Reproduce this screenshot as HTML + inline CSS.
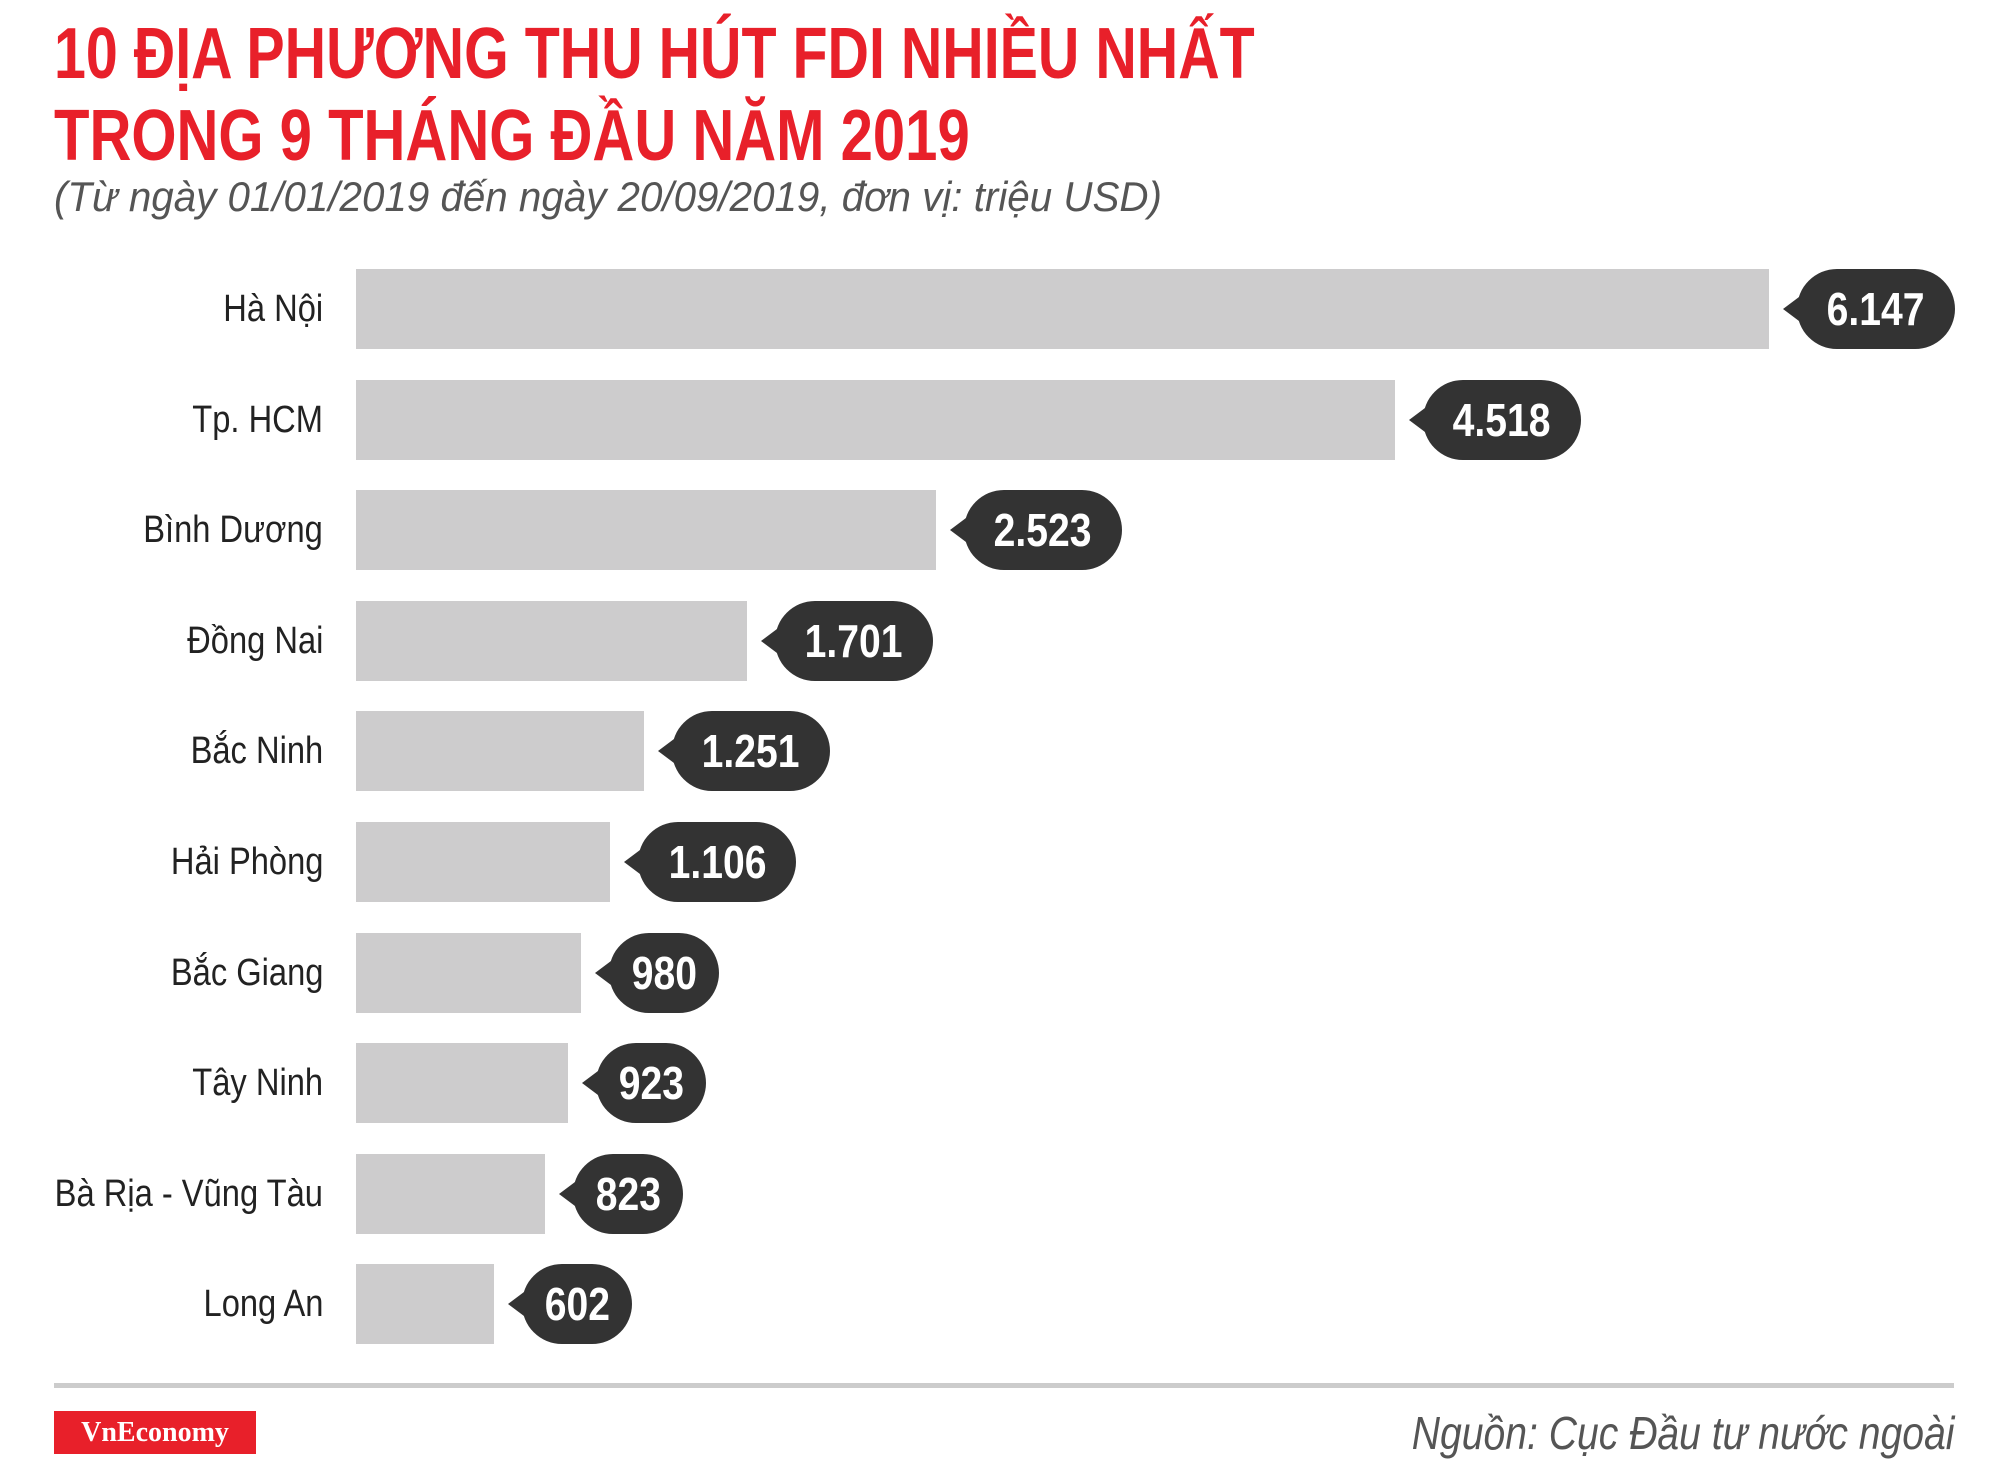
<!DOCTYPE html>
<html><head><meta charset="utf-8"><style>
body{margin:0;width:2000px;height:1473px;background:#fff;position:relative;overflow:hidden;font-family:"Liberation Sans Narrow","Liberation Sans",sans-serif}
.t{position:absolute;left:54px;color:#e8202a;font-weight:bold;font-size:72px;transform-origin:left top;white-space:nowrap;line-height:1}
.sub{position:absolute;left:54px;top:176px;color:#555;font-style:italic;font-size:42px;white-space:nowrap;transform-origin:left top;line-height:1}
.lab{position:absolute;right:1677px;font-size:38px;color:#222;white-space:nowrap;line-height:80px;transform:scaleX(0.86);transform-origin:right center}
.bar{position:absolute;left:356px;height:80px;background:#cdcccd}
.bub{position:absolute;height:80px;background:#333;border-radius:40px;color:#fff;font-weight:bold;font-size:46px;line-height:80px;text-align:center}
.bub span{display:inline-block;transform:scaleX(0.85)}
.bub:before{content:"";position:absolute;left:-14px;top:28px;border-style:solid;border-width:12px 16px 12px 0;border-color:transparent #333 transparent transparent}
</style></head><body>
<div class="t" style="top:18px;transform:scaleX(0.797)">10 ĐỊA PHƯƠNG THU HÚT FDI NHIỀU NHẤT</div>
<div class="t" style="top:100px;transform:scaleX(0.806)">TRONG 9 THÁNG ĐẦU NĂM 2019</div>
<div class="sub" style="transform:scaleX(0.96)">(Từ ngày 01/01/2019 đến ngày 20/09/2019, đơn vị: triệu USD)</div>
<div id="chart"></div>
<div style="position:absolute;left:54px;top:1383px;width:1900px;height:5px;background:#ccc"></div>
<div style="position:absolute;left:54px;top:1411px;width:202px;height:43px;background:#e8202a;color:#fff;font-family:'Liberation Serif',serif;font-weight:bold;font-size:28px;line-height:43px;text-align:center">VnEconomy</div>
<div style="position:absolute;right:46px;top:1406px;color:#555;font-style:italic;font-size:46px;white-space:nowrap;transform:scaleX(0.85);transform-origin:right top">Nguồn: Cục Đầu tư nước ngoài</div>
<script>
const categories=["Hà Nội","Tp. HCM","Bình Dương","Đồng Nai","Bắc Ninh","Hải Phòng","Bắc Giang","Tây Ninh","Bà Rịa - Vũng Tàu","Long An"];
const values=[6147,4518,2523,1701,1251,1106,980,923,823,602];
const valueLabels=["6.147","4.518","2.523","1.701","1.251","1.106","980","923","823","602"];
const c=document.getElementById('chart');
const x=v=>v*1413/6147;
const y=i=>269+i*110.6;
categories.forEach((cat,i)=>{
 const l=document.createElement('div');l.className='lab';l.style.top=y(i)+'px';l.textContent=cat;
 
 c.appendChild(l);
 const b=document.createElement('div');b.className='bar';b.style.top=y(i)+'px';b.style.width=x(values[i])+'px';
 
 c.appendChild(b);
 const t=document.createElement('div');t.className='bub';t.style.top=y(i)+'px';
 t.style.left=(356+x(values[i])+28)+'px';
 t.style.width=(valueLabels[i].length>3?158:110)+'px';
 const s=document.createElement('span');s.textContent=valueLabels[i];t.appendChild(s);
 
 c.appendChild(t);
});
</script>
</body></html>
